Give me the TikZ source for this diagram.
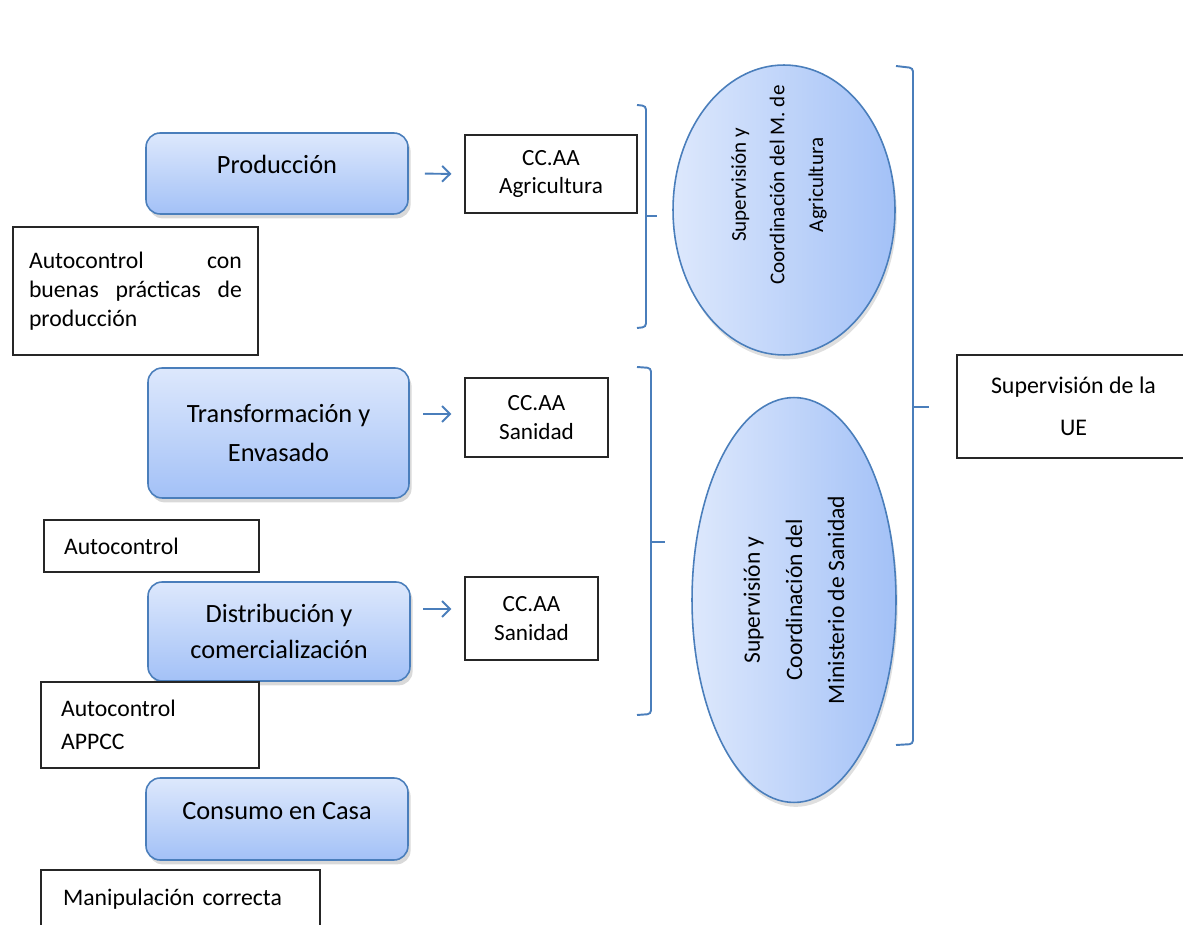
\documentclass[tikz,border=0pt]{standalone}
\usepackage{fontspec}
\setmainfont{Carlito}
\usetikzlibrary{positioning,arrows.meta,shapes.geometric,shadows}
\definecolor{officeblue}{HTML}{4A7EBB}
\definecolor{shadetop}{HTML}{DDE8FC}
\definecolor{shadebot}{HTML}{A3C1F7}

\begin{document}
\begin{tikzpicture}[
    x=0.02cm, y=-0.02cm,
    every node/.style={font=\fontsize{13.5}{16.5}\selectfont, inner sep=0pt},
    stage/.style={draw=officeblue, line width=0.9pt, rounded corners=8pt,
        top color=shadetop, bottom color=shadebot, align=center,
        font=\fontsize{15}{22}\selectfont,
        drop shadow={shadow xshift=1.5pt, shadow yshift=-2.5pt, opacity=0.3}},
    panel/.style={draw=black!85, line width=0.7pt, fill=white},
    oval/.style={ellipse, draw=officeblue, line width=0.9pt,
        left color=shadetop, right color=shadebot,
        drop shadow={shadow xshift=1pt, shadow yshift=-2.5pt, opacity=0.25}},
    arr/.style={draw=officeblue, line width=1.1pt, -{Straight Barb[length=4.5pt,width=9pt]}},
    brace/.style={draw=officeblue, line width=1.1pt, rounded corners=2pt}
]
    \useasboundingbox (0,0) rectangle (1183,925);
    \clip (0,0) rectangle (1183,925);

    % Stages of the chain (left column)
    \node[stage, minimum width=5.24cm, minimum height=1.62cm, text height=11pt, text depth=11pt] (prod) at (277,173.5) {Producción};
    \node[stage, minimum width=5.22cm, minimum height=2.6cm] (transf) at (278.5,433) {Transformación y\\Envasado};
    \node[stage, minimum width=5.24cm, minimum height=1.98cm, font=\fontsize{15}{20.5}\selectfont] (dist) at (279,631.5) {Distribución y\\comercialización};
    \node[stage, minimum width=5.24cm, minimum height=1.64cm, text height=11pt, text depth=11pt] (casa) at (277,819) {Consumo en Casa};

    % Self-control boxes
    \node[panel, text width=4.26cm, align=left, inner xsep=0.32cm, minimum height=2.56cm] (autoprod) at (135.5,291)
        {Autocontrol\hfill con\\buenas\hfill prácticas\hfill de\\producción\par\vspace{10pt}};
    \node[panel, text width=3.5cm, align=left, inner xsep=0.4cm, minimum height=1.04cm] (autotransf) at (151.5,546) {Autocontrol};
    \node[panel, text width=3.56cm, align=left, inner xsep=0.4cm, minimum height=1.72cm, font=\fontsize{13.5}{19}\selectfont] (appcc) at (150,725) {Autocontrol\\APPCC};
    \node[panel, text width=4.7cm, align=left, inner xsep=0.44cm, minimum height=1.16cm] (manip) at (180.5,899) {Manipulación correcta};

    % Regional authorities
    \node[panel, minimum width=3.44cm, minimum height=1.56cm, align=center, font=\fontsize{13.2}{16}\selectfont] (ccagri) at (551,174) {CC.AA\\Agricultura};
    \node[panel, minimum width=2.86cm, minimum height=1.58cm, align=center, font=\fontsize{13.2}{17}\selectfont] (ccsan1) at (536.5,417.5) {CC.AA\\Sanidad};
    \node[panel, minimum width=2.66cm, minimum height=1.66cm, align=center, font=\fontsize{13.2}{17}\selectfont] (ccsan2) at (531.5,618.5) {CC.AA\\Sanidad};

    \draw[arr, shorten <=0.32cm, shorten >=0.26cm] (prod.east) -- (ccagri.west);
    \draw[arr, shorten >=0.26cm] ([xshift=-0.82cm, yshift=0.07cm]ccsan1.west) -- ([yshift=0.07cm]ccsan1.west);
    \draw[arr, shorten >=0.26cm] ([xshift=-0.82cm, yshift=0.19cm]ccsan2.west) -- ([yshift=0.19cm]ccsan2.west);

    % Braces grouping the regional authorities
    \draw[brace] (637,105) -- (646,106) -- (646,327) -- (637,328);
    \draw[brace, rounded corners=0pt] (646,216) -- (657,216);
    \draw[brace] (637,367) -- (651,368) -- (651,714) -- (637,715);
    \draw[brace, rounded corners=0pt] (651,542) -- (665,542);

    % Ministries
    \node[oval, rotate=90, minimum width=5.8cm, minimum height=4.44cm] (minagri) at (784,210) {};
    \node[rotate=90, align=center, font=\fontsize{12}{22}\selectfont] (minagritxt) at (779,185) {Supervisión y\\Coordinación del M. de\\Agricultura};
    \node[oval, rotate=90, minimum width=8.1cm, minimum height=4.08cm, align=center, font=\fontsize{13.4}{24}\selectfont] (minsan) at (794,600)
        {Supervisión y\\Coordinación del\\Ministerio de Sanidad};

    % EU brace and box
    \draw[brace] (896,66) -- (913,68) -- (913,744) -- (896,745);
    \draw[brace, rounded corners=0pt] (913,407) -- (929,407);
    \node[panel, minimum width=4.66cm, minimum height=2.06cm, align=center, font=\fontsize{13.6}{24}\selectfont] (ue) at (1073.5,406.5) {Supervisión de la\\UE};

\end{tikzpicture}
\end{document}
